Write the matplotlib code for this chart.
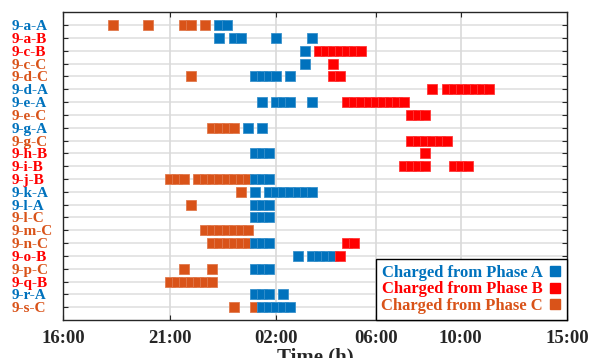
import matplotlib
matplotlib.use("Agg")
import matplotlib.pyplot as plt
from matplotlib.lines import Line2D
from matplotlib.colors import to_rgb

# Etiquetas das linhas (veiculo-fase)
rows = ['9-a-A', '9-a-B', '9-c-B', '9-c-C', '9-d-C', '9-d-A', '9-e-A', '9-e-C',
        '9-g-A', '9-g-C', '9-h-B', '9-i-B', '9-j-B', '9-k-A', '9-l-A', '9-l-C',
        '9-m-C', '9-n-C', '9-o-B', '9-p-C', '9-q-B', '9-r-A', '9-s-C']

# Intervalos de carga (indice do slot) por fase
phase_a = [[22, 23], [22, 24, 25, 30, 35], [34], [34], [27, 28, 29, 30, 32], [],
           [28, 30, 31, 32, 35], [], [26, 28], [], [27, 28, 29], [],
           [27, 28, 29], [27, 29, 30, 31, 32, 33, 34, 35], [27, 28, 29], [27, 28, 29],
           [], [27, 28, 29], [33, 35, 36, 37, 38], [27, 28, 29], [],
           [27, 28, 29, 31], [28, 29, 30, 31, 32]]
phase_b = [[], [], [36, 37, 38, 39, 40, 41, 42], [38], [38, 39],
           [52, 54, 55, 56, 57, 58, 59, 60], [40, 41, 42, 43, 44, 45, 46, 47, 48],
           [49, 50, 51], [], [49, 50, 51, 52, 53, 54], [51],
           [48, 49, 50, 51, 55, 56, 57], [], [], [], [], [], [40, 41], [39],
           [], [], [], []]
phase_c = [[7, 12, 17, 18, 20], [], [], [], [18], [], [], [], [21, 22, 23, 24], [],
           [], [], [15, 16, 17, 19, 20, 21, 22, 23, 24, 25, 26], [25], [18], [],
           [20, 21, 22, 23, 24, 25, 26], [21, 22, 23, 24, 25, 26], [], [17, 21],
           [15, 16, 17, 18, 19, 20, 21], [], [24, 27]]

tick_pos = [0, 15, 30, 44, 56, 71]
tick_labels = ['16:00', '21:00', '02:00', '06:00', '10:00', '15:00']

colors = {'A': '#0072BD', 'B': '#FF0000', 'C': '#D95319'}


def lighter(c, f=0.4):
    r, g, b = to_rgb(c)
    return (r + (1 - r) * f, g + (1 - g) * f, b + (1 - b) * f)


plt.rcParams['font.family'] = ['Liberation Serif', 'DejaVu Serif']
plt.rcParams['font.weight'] = 'bold'

fig = plt.figure(figsize=(5.9, 3.58), dpi=100)
ax = fig.add_axes([0.1073, 0.1061, 0.8542, 0.8595])

# grade
for i in range(1, len(rows) + 1):
    ax.axhline(i, color='#e3e3e3', lw=1.3, zorder=0)
for x in tick_pos[1:-1]:
    ax.axvline(x, color='#d9d9d9', lw=1.2, zorder=0)

# ordem: C, A, B
for key, data in (('C', phase_c), ('A', phase_a), ('B', phase_b)):
    for i, slots in enumerate(data):
        if not slots:
            continue
        ax.plot(slots, [i + 1] * len(slots), 's', ms=7.4, mew=0.6,
                color=colors[key], mec=lighter(colors[key], 0.22), zorder=3)

ax.set_xlim(0, 71)
ax.set_ylim(len(rows) + 1, 0)
ax.set_xticks(tick_pos)
ax.set_xticklabels(tick_labels, fontsize=13.5, fontweight='bold', color='#262626')
ax.set_yticks(range(1, len(rows) + 1))
ax.set_yticklabels(rows, fontsize=11, fontweight='bold')
for lab, name in zip(ax.get_yticklabels(), rows):
    lab.set_color(colors[name[-1]])
    lab.set_horizontalalignment('left')

ax.tick_params(axis='both', direction='in', top=True, right=True, length=3.5,
               width=0.8, color='#262626')
ax.tick_params(axis='y', pad=37)
ax.tick_params(axis='x', pad=7.5)
for s in ax.spines.values():
    s.set_color('#262626')
    s.set_linewidth(1.0)

ax.set_xlabel('Time (h)', fontsize=15, fontweight='bold', color='#262626', labelpad=0)

handles = [Line2D([], [], ls='none', marker='s', ms=7.5, color=colors[k]) for k in 'ABC']
leg = ax.legend(handles, ['Charged from Phase A', 'Charged from Phase B', 'Charged from Phase C'],
                loc='lower right', markerfirst=False, fontsize=12, frameon=True,
                fancybox=False, edgecolor='black', framealpha=1, borderaxespad=0,
                handlelength=0.8, handletextpad=0.3, labelspacing=0.05,
                borderpad=0.35)
leg.get_frame().set_linewidth(1.0)
for t, k in zip(leg.get_texts(), 'ABC'):
    t.set_color(colors[k])
    t.set_fontweight('bold')

fig.savefig('out.png', dpi=100)
